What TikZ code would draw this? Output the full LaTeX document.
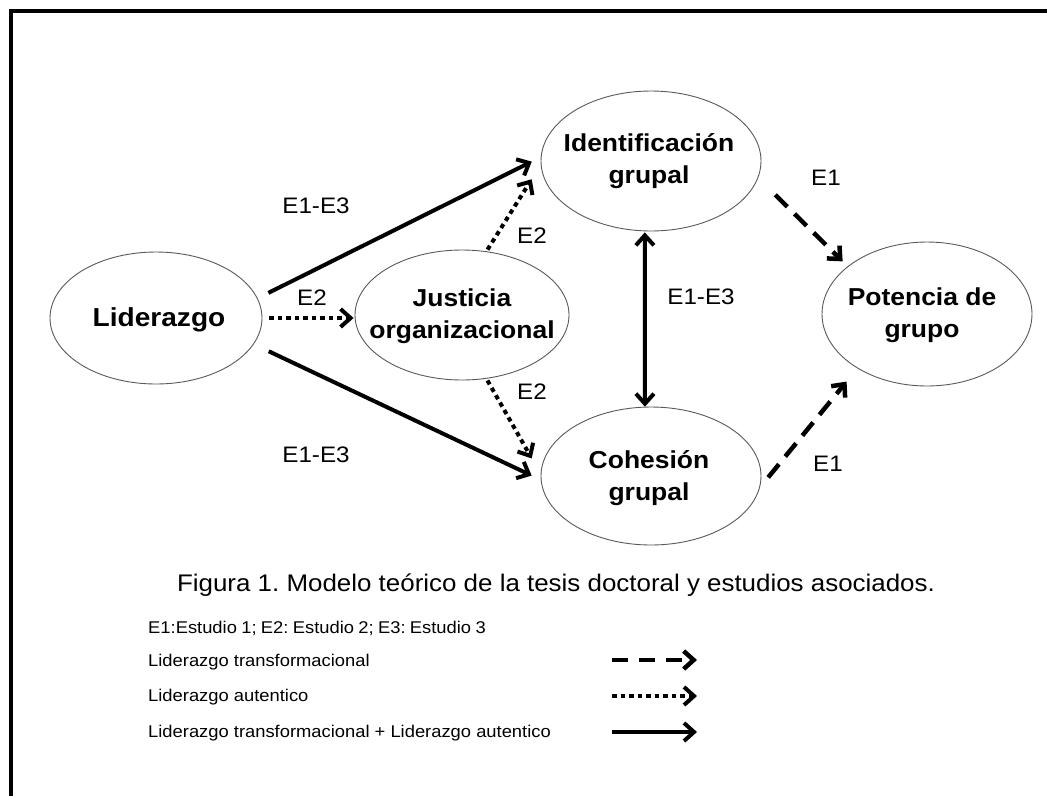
\documentclass[tikz,border=0pt]{standalone}
\usepackage{fontspec}
\setmainfont{Liberation Sans}[FakeStretch=1.08]
\usetikzlibrary{arrows.meta,shapes.geometric}
\frenchspacing
\begin{document}
\begin{tikzpicture}[x=1pt,y=-1pt,
  ell/.style={ellipse,draw=black!65,line width=0.9pt,inner sep=0pt},
  nodetext/.style={font=\fontsize{24.5}{32}\selectfont\bfseries,align=center,inner sep=0pt},
  lbl/.style={font=\fontsize{22.4}{24}\selectfont,inner sep=0pt},
  legtext/.style={font=\fontsize{17}{19}\selectfont,inner sep=0pt,anchor=west},
  onetip/.style={-{Straight Barb[length=10pt,width=18pt]}},
  twotips/.style={{Straight Barb[length=10pt,width=18pt]}-{Straight Barb[length=10pt,width=18pt]}},
  solidarrow/.style={line width=4pt},
  dottedarrow/.style={line width=4pt,dash pattern=on 4.5pt off 4pt},
  dashedarrow/.style={line width=4.5pt,dash pattern=on 17pt off 10pt},
]
\useasboundingbox (0,0) rectangle (1047,796);

% frame
\draw[line width=4pt] (11,796) -- (11,11) -- (1047,11);

% constructs
\node[ell,minimum width=212pt,minimum height=132pt] (lid) at (156,318) {};
\node[ell,minimum width=214pt,minimum height=130pt] (jus) at (462,315) {};
\node[ell,minimum width=220pt,minimum height=140pt] (idg) at (651,161) {};
\node[ell,minimum width=220pt,minimum height=138pt] (coh) at (651,476) {};
\node[ell,minimum width=210pt,minimum height=144pt] (pot) at (927,314) {};

\node[nodetext,font=\fontsize{26}{32}\selectfont\bfseries] (lidt) at (159,320) {Liderazgo};
\node[nodetext] (just) at (462,316) {Justicia\\organizacional};
\node[nodetext] (idgt) at (649,161) {Identificación\\grupal};
\node[nodetext] (coht) at (649,478) {Cohesión\\grupal};
\node[nodetext] (pott) at (922,315) {Potencia de\\grupo};

% paths
\draw[solidarrow,onetip,shorten <=12pt,shorten >=10pt] (lid.11) -- (idg.178);
\draw[solidarrow,onetip,shorten <=16.5pt,shorten >=10pt] (lid.-15.5) -- (coh.182);
\draw[dottedarrow,onetip,shorten <=7pt,shorten >=1pt] (lid.east) -- (lid.east -| jus.west);
\draw[dottedarrow,onetip,shorten <=2pt,shorten >=17pt] (jus.69) -- (idg.182.5);
\draw[dottedarrow,onetip,shorten <=2pt,shorten >=18pt] (jus.-69) -- (coh.179);
\draw[solidarrow,twotips,shorten <=1pt] (idg.-95) -- (coh.95);
\draw[dashedarrow,onetip,shorten <=24pt,shorten >=7pt] (idg.-9) -- (pot.149);
\draw[dashedarrow,onetip,shorten <=13pt,shorten >=17pt] (coh.-6) -- (pot.218);

% path labels
\node[lbl] (l1) at (316,206) {E1-E3};
\node[lbl] (l2) at (312,298) {E2};
\node[lbl] (l3) at (532,236) {E2};
\node[lbl] (l4) at (532,392) {E2};
\node[lbl] (l5) at (316,455) {E1-E3};
\node[lbl] (l6) at (701,297) {E1-E3};
\node[lbl] (l7) at (826,178) {E1};
\node[lbl] (l8) at (828,464) {E1};

% caption and legend
\node[font=\fontsize{24}{26}\selectfont,inner sep=0pt] (cap) at (556,585)
  {Figura 1. Modelo teórico de la tesis doctoral y estudios asociados.};
\node[legtext] (leg0) at (148,628)
  {\spaceskip=0.85\fontdimen2\font E1:Estudio 1; E2: Estudio 2; E3: Estudio 3};
\node[legtext] (leg1) at (148,662) {Liderazgo transformacional};
\node[legtext] (leg2) at (148,697) {Liderazgo autentico};
\node[legtext] (leg3) at (148,733) {Liderazgo transformacional + Liderazgo autentico};

\coordinate (k1a) at (612,660); \coordinate (k1b) at (697,660);
\coordinate (k2a) at (612,696); \coordinate (k2b) at (697,696);
\coordinate (k3a) at (612,732); \coordinate (k3b) at (697,732);
\draw[line width=4.5pt,dash pattern=on 16pt off 11pt,onetip] (k1a) -- (k1b);
\draw[dottedarrow,onetip] (k2a) -- (k2b);
\draw[solidarrow,onetip] (k3a) -- (k3b);
\end{tikzpicture}
\end{document}
